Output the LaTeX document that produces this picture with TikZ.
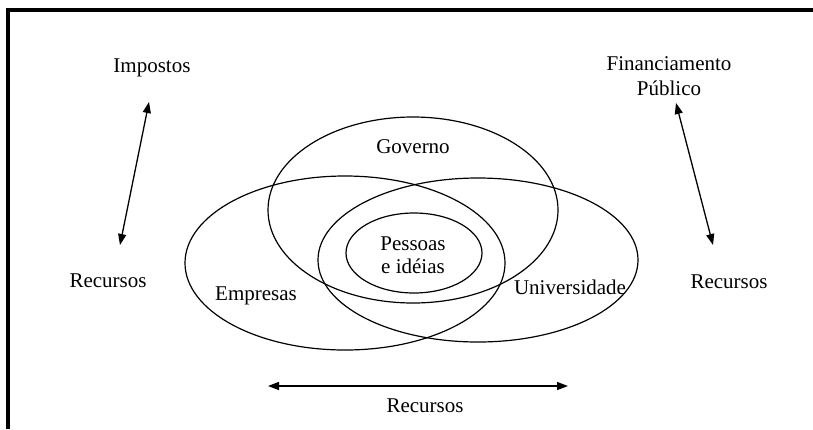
\documentclass[tikz,border=0pt]{standalone}
\usepackage{fontspec}
\setmainfont{Liberation Serif}
\usetikzlibrary{shapes.geometric,arrows.meta}
\begin{document}
\begin{tikzpicture}[x=1pt,y=-1pt,
  lbl/.style={anchor=base,inner sep=0pt,font=\fontsize{21}{25}\selectfont},
  venn/.style={draw,ellipse,line width=1.2pt,inner sep=0pt},
  dbl/.style={line width=1.3pt,{Triangle[length=11pt,width=8pt]}-{Triangle[length=11pt,width=8pt]}}]
\useasboundingbox (0,0) rectangle (813,429);
% frame (top and left edges only)
\draw[line width=4pt] (8,429) -- (8,10) -- (813,10);
% ellipses
\node[venn,minimum width=290pt,minimum height=186pt] (gov) at (413,210) {};
\node[venn,minimum width=320pt,minimum height=174pt] (emp) at (345,263) {};
\node[venn,minimum width=320pt,minimum height=164pt] (uni) at (478,260) {};
\node[venn,minimum width=136pt,minimum height=80pt] (pes) at (414,253) {};
% labels
\node[lbl] (tgov) at (413,153) {Governo};
\node[lbl] (tpes1) at (413,250) {Pessoas};
\node[lbl] (tpes2) at (413,273) {e idéias};
\node[lbl] (temp) at (256,300) {Empresas};
\node[lbl] (tuni) at (570,294) {Universidade};
\node[lbl] (imp) at (152,72) {Impostos};
\node[lbl] (fin1) at (669,70) {Financiamento};
\node[lbl] (fin2) at (669,95) {Público};
\node[lbl] (recl) at (108,287) {Recursos};
\node[lbl] (recr) at (729,288) {Recursos};
\node[lbl] (recb) at (425,412) {Recursos};
% arrow end points
\coordinate (la) at (149,102);
\coordinate (lb) at (120,245);
\coordinate (ra) at (676,103);
\coordinate (rb) at (713,245);
\coordinate (ba) at (268,386);
\coordinate (bb) at (568,386);
\draw[dbl] (la) -- (lb);
\draw[dbl] (ra) -- (rb);
\draw[dbl] (ba) -- (bb);
\end{tikzpicture}
\end{document}
